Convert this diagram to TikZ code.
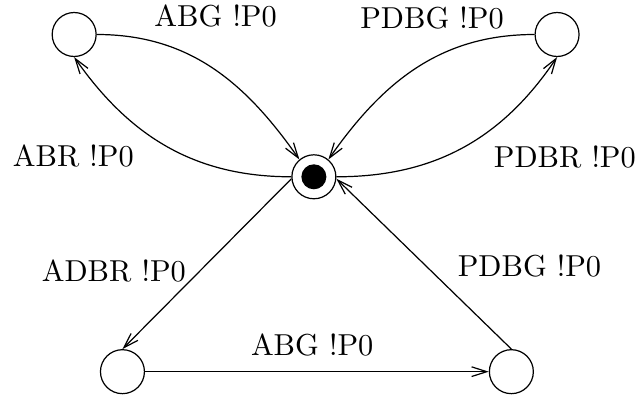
\documentclass[tikz,border=0pt]{standalone}
\usepackage{tikz}
\usetikzlibrary{arrows.meta,positioning}

\begin{document}
\begin{tikzpicture}[
      state/.style={circle,draw,minimum size=0.51cm,inner sep=0pt},
      initial state/.style={state,
        path picture={\fill (path picture bounding box.center)
          circle (0.145cm);}},
      arr/.style={-{Straight Barb[length=5pt,width=3.2pt]}},
      lbl/.style={font=\normalsize,inner sep=1pt}
    ]
      \useasboundingbox (-3.64,-2.56) rectangle (3.77,2.05);

      % states
      \node[initial state](c) at (0,0){};
      \node[state](tl) at (-2.78,1.65){};
      \node[state](tr) at (2.82,1.65){};
      \node[state](bl) at (-2.22,-2.26){};
      \node[state](br) at (2.29,-2.26){};

      % transitions
      \draw[arr](tl.east) to[out=0,in=125] (c.130);
      \draw[arr](c.west) to[out=180,in=-55] (tl.south);
      \draw[arr](tr.west) to[out=180,in=55] (c.50);
      \draw[arr](c.east) to[out=0,in=-124] (tr.south);
      \draw[arr](c.185)--(bl.north);
      \draw[arr](bl)--(br);
      \draw[arr](br.north)--(c.-5);

      % labels
      \node[lbl](l1) at (-1.14,1.87){ABG !P0};
      \node[lbl](l2) at (-2.79,0.24){ABR !P0};
      \node[lbl](l3) at (1.37,1.84){PDBG !P0};
      \node[lbl](l4) at (2.91,0.23){PDBR !P0};
      \node[lbl](l5) at (-2.32,-1.09){ADBR !P0};
      \node[lbl](l6) at (-0.02,-1.95){ABG !P0};
      \node[lbl](l7) at (2.50,-1.03){PDBG !P0};
    \end{tikzpicture}
\end{document}
